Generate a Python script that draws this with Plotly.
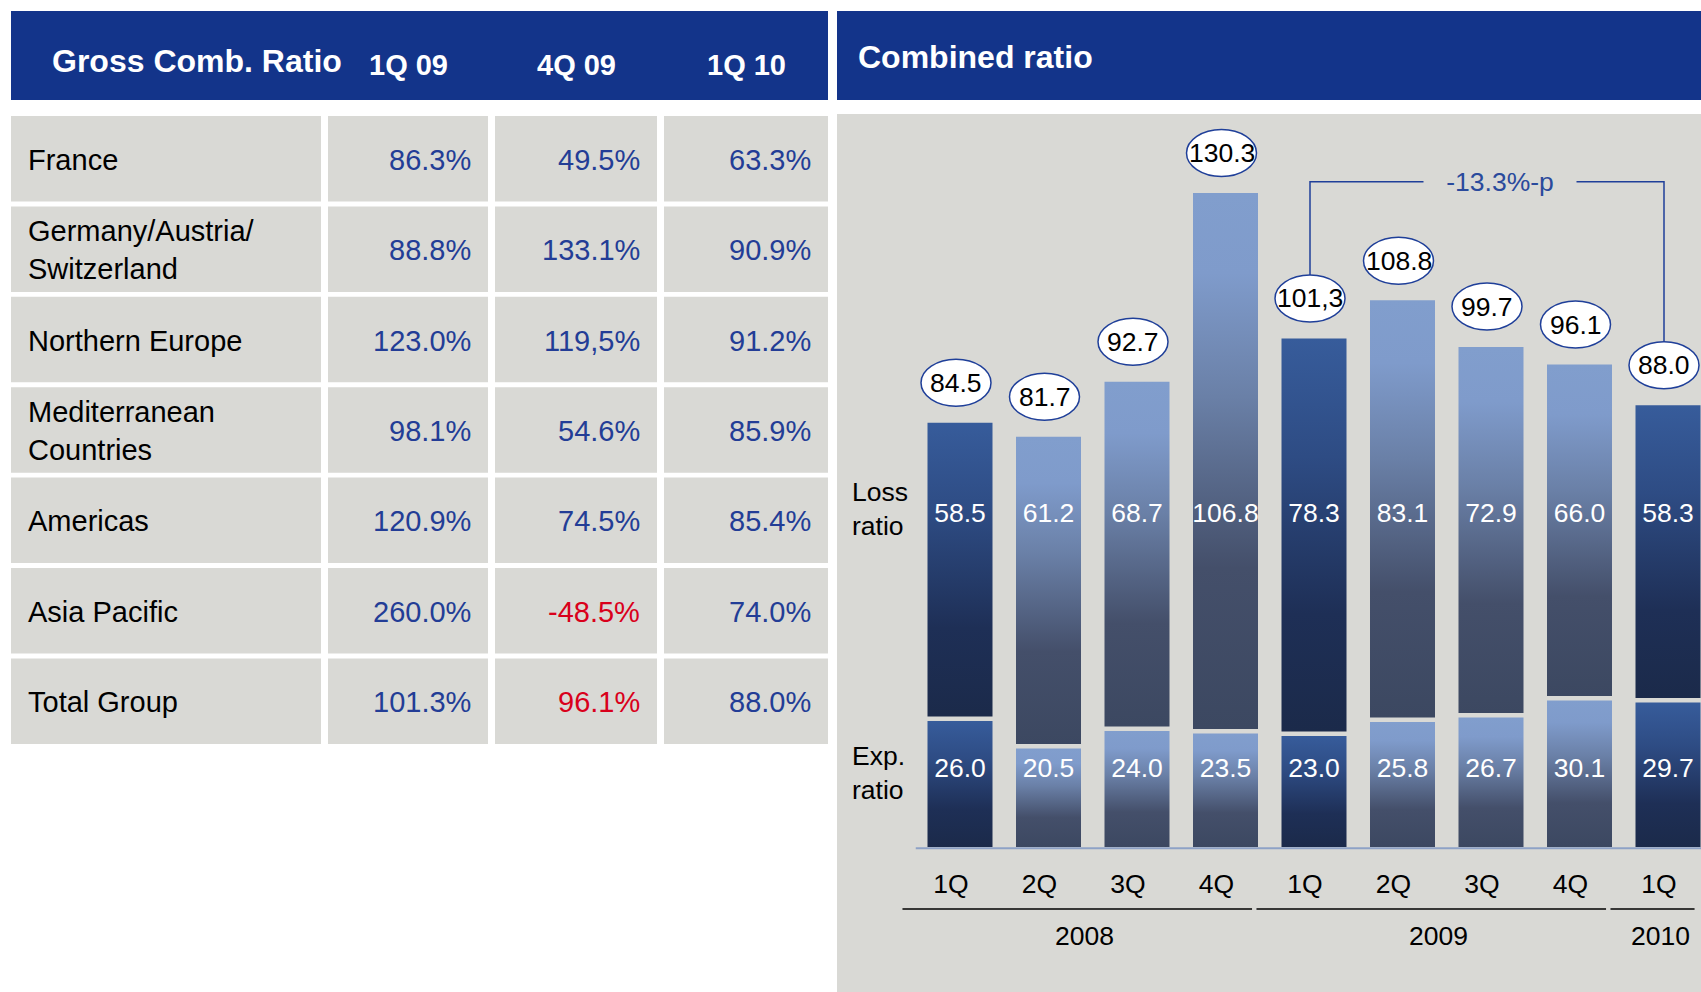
import plotly.graph_objects as go

W, H = 1701, 992

# ---- table data ----
table_title = "Gross Comb. Ratio"
table_periods = ["1Q 09", "4Q 09", "1Q 10"]
regions = [
    "France", "Germany/Austria/<br>Switzerland", "Northern Europe",
    "Mediterranean<br>Countries", "Americas", "Asia Pacific", "Total Group",
]
ratio_1q09 = ["86.3%", "88.8%", "123.0%", "98.1%", "120.9%", "260.0%", "101.3%"]
ratio_4q09 = ["49.5%", "133.1%", "119,5%", "54.6%", "74.5%", "-48.5%", "96.1%"]
ratio_1q10 = ["63.3%", "90.9%", "91.2%", "85.9%", "85.4%", "74.0%", "88.0%"]
red_4q09 = [False, False, False, False, False, True, True]

# ---- chart data ----
chart_title = "Combined ratio"
quarters = ["1Q", "2Q", "3Q", "4Q", "1Q", "2Q", "3Q", "4Q", "1Q"]
years = ["2008", "2009", "2010"]
year_of_bar = [0, 0, 0, 0, 1, 1, 1, 1, 2]
loss_ratio = [58.5, 61.2, 68.7, 106.8, 78.3, 83.1, 72.9, 66.0, 58.3]
exp_ratio = [26.0, 20.5, 24.0, 23.5, 23.0, 25.8, 26.7, 30.1, 29.7]
combined_ratio = [84.5, 81.7, 92.7, 130.3, 101.3, 108.8, 99.7, 96.1, 88.0]
combined_text = ["84.5", "81.7", "92.7", "130.3", "101,3", "108.8", "99.7", "96.1", "88.0"]
highlight = [True, False, False, False, True, False, False, False, True]
change_from, change_to, change_text = 4, 8, "-13.3%-p"

# ---- styling ----
FONT = "Liberation Sans, Arial, sans-serif"
NAVY = "#13348a"
PANEL = "#d9d9d5"
VAL_BLUE = "#233d96"
VAL_RED = "#d9001b"
DARK_CS = [[0, "#1b2a4a"], [0.3, "#1e2f56"], [0.7, "#2e4c84"], [1, "#375c9b"]]
LIGHT_CS = [[0, "#3c4861"], [0.3, "#444f6a"], [0.62, "#6a80a7"], [0.85, "#7f9bcb"], [1, "#819ecd"]]

PX_X = 88.5      # px per bar slot
PX_Y = 5.02      # px per ratio point
X0_PX = 960      # centre of first bar
BASE_PX = 847    # y pixel of ratio 0
BAR_W = 65 / PX_X
GAP = 4.5 / PX_Y
LOSS_LABEL_Y = 66
EXP_LABEL_Y = 15.3
ELL_DX = -4
TXT = 26.5
TBL = 29


def px(x):
    return x / W


def py(y):
    return 1 - y / H


fig = go.Figure()
shapes = []
annotations = []

# ---- table ----
shapes.append(dict(type="rect", xref="paper", yref="paper", x0=px(11), x1=px(828),
                   y0=py(100), y1=py(11), fillcolor=NAVY, line_width=0, layer="below"))
annotations.append(dict(xref="paper", yref="paper", x=px(50), y=py(61), text=f"<b>{table_title}</b>",
                        xanchor="left", yanchor="middle", showarrow=False,
                        font=dict(family=FONT, size=32, color="white")))
col_edges = [(11, 321), (328, 488), (495, 657), (664, 828)]
for c, lab in enumerate(table_periods):
    l, r = col_edges[c + 1]
    annotations.append(dict(xref="paper", yref="paper", x=px((l + r) / 2), y=py(65),
                            text=f"<b>{lab}</b>", xanchor="center", yanchor="middle", showarrow=False,
                            font=dict(family=FONT, size=29, color="white")))

ROW_TOP0, ROW_PITCH, ROW_H = 116, 90.4, 85.5
cols = [ratio_1q09, ratio_4q09, ratio_1q10]
for r, name in enumerate(regions):
    top = ROW_TOP0 + r * ROW_PITCH
    mid = top + ROW_H / 2
    for l, rr in col_edges:
        shapes.append(dict(type="rect", xref="paper", yref="paper", x0=px(l), x1=px(rr),
                           y0=py(top + ROW_H), y1=py(top), fillcolor=PANEL, line_width=0, layer="below"))
    annotations.append(dict(xref="paper", yref="paper", x=px(26), y=py(mid + 1), text=name,
                            xanchor="left", yanchor="middle", align="left", showarrow=False,
                            font=dict(family=FONT, size=TBL, color="black")))
    for c, vals in enumerate(cols):
        color = VAL_RED if (c == 1 and red_4q09[r]) else VAL_BLUE
        annotations.append(dict(xref="paper", yref="paper", x=px(col_edges[c + 1][1] - 15), y=py(mid + 1),
                                text=vals[r], xanchor="right", yanchor="middle", showarrow=False,
                                font=dict(family=FONT, size=TBL, color=color)))

# ---- chart panel ----
shapes.append(dict(type="rect", xref="paper", yref="paper", x0=px(837), x1=1,
                   y0=py(100), y1=py(11), fillcolor=NAVY, line_width=0, layer="below"))
shapes.append(dict(type="rect", xref="paper", yref="paper", x0=px(837), x1=1,
                   y0=0, y1=py(114), fillcolor=PANEL, line_width=0, layer="below"))
annotations.append(dict(xref="paper", yref="paper", x=px(856), y=py(57), text=f"<b>{chart_title}</b>",
                        xanchor="left", yanchor="middle", showarrow=False,
                        font=dict(family=FONT, size=32, color="white")))

n = len(quarters)
for i in range(n):
    cs = DARK_CS if highlight[i] else LIGHT_CS
    segs = [(0, exp_ratio[i] - GAP), (exp_ratio[i], exp_ratio[i] + loss_ratio[i])]
    xl, xr = i - BAR_W / 2, i + BAR_W / 2
    for y0, y1 in segs:
        fig.add_trace(go.Scatter(
            x=[xl, xr, xr, xl, xl], y=[y0, y0, y1, y1, y0],
            mode="none", fill="toself",
            fillgradient=dict(type="vertical", colorscale=cs),
            hoverinfo="skip", showlegend=False,
        ))

fig.add_trace(go.Scatter(
    x=list(range(n)), y=[LOSS_LABEL_Y] * n, mode="text",
    text=[f"{v:.1f}" for v in loss_ratio],
    textfont=dict(family=FONT, size=TXT, color="white"), showlegend=False, hoverinfo="skip",
))
fig.add_trace(go.Scatter(
    x=list(range(n)), y=[EXP_LABEL_Y] * n, mode="text",
    text=[f"{v:.1f}" for v in exp_ratio],
    textfont=dict(family=FONT, size=TXT, color="white"), showlegend=False, hoverinfo="skip",
))

# baseline
shapes.append(dict(type="line", xref="x", yref="y", x0=-0.5, x1=n, y0=-0.25, y1=-0.25,
                   line=dict(color="#8ea2c6", width=2)))

# total ellipses
ELL_OFF, ELL_HW, ELL_HH = 40, 35, 23.5
for i in range(n):
    shapes.append(dict(type="circle", xref="x", yref="y", xsizemode="pixel", ysizemode="pixel",
                       xanchor=i, yanchor=combined_ratio[i],
                       x0=ELL_DX - ELL_HW, x1=ELL_DX + ELL_HW,
                       y0=ELL_OFF - ELL_HH, y1=ELL_OFF + ELL_HH,
                       fillcolor="white", line=dict(color="#1f3f99", width=1.5)))
    annotations.append(dict(x=i, y=combined_ratio[i], xref="x", yref="y", xshift=ELL_DX, yshift=ELL_OFF,
                            text=combined_text[i], showarrow=False, xanchor="center", yanchor="middle",
                            font=dict(family=FONT, size=TXT, color="black")))

# change bracket
dx = ELL_DX / PX_X
top_a = combined_ratio[change_from] + (ELL_OFF + ELL_HH) / PX_Y
top_b = combined_ratio[change_to] + (ELL_OFF + ELL_HH) / PX_Y
br_y = max(combined_ratio) + 2.2
xa, xb = change_from + dx, change_to + dx
shapes.append(dict(type="path", xref="x", yref="y",
                   path=f"M {xa},{top_a} L {xa},{br_y} L {xb},{br_y} L {xb},{top_b}",
                   line=dict(color="#1f3f99", width=1.5)))
annotations.append(dict(x=(xa + xb) / 2, y=br_y, xref="x", yref="y", xshift=13, text=change_text,
                        showarrow=False, bgcolor=PANEL, width=150, height=30,
                        font=dict(family=FONT, size=TXT, color="#2a4a9c")))

# side labels
annotations.append(dict(xref="paper", yref="paper", x=px(850), y=py(509), text="Loss<br>ratio",
                        xanchor="left", yanchor="middle", align="left", showarrow=False,
                        font=dict(family=FONT, size=TXT, color="black")))
annotations.append(dict(xref="paper", yref="paper", x=px(850), y=py(773), text="Exp.<br>ratio",
                        xanchor="left", yanchor="middle", align="left", showarrow=False,
                        font=dict(family=FONT, size=TXT, color="black")))

# year groups
for k, yr in enumerate(years):
    members = [i for i in range(n) if year_of_bar[i] == k]
    g0, g1 = min(members) - 0.65, max(members) + 0.3
    shapes.append(dict(type="line", xref="x", yref="paper", x0=g0, x1=g1, y0=py(909), y1=py(909),
                       line=dict(color="black", width=1.5)))
    annotations.append(dict(x=sum(members) / len(members) - 0.09, y=py(936), xref="x", yref="paper",
                            text=yr, showarrow=False, xanchor="center", yanchor="middle",
                            font=dict(family=FONT, size=TXT, color="black")))

x_left = (837 - X0_PX) / PX_X
x_right = (W - X0_PX) / PX_X
dom_bottom, dom_top = 850, 114
y_lo = -(dom_bottom - BASE_PX) / PX_Y
y_hi = y_lo + (dom_bottom - dom_top) / PX_Y

fig.update_layout(
    width=W, height=H,
    margin=dict(l=0, r=0, t=0, b=0),
    paper_bgcolor="white",
    plot_bgcolor="rgba(0,0,0,0)",
    showlegend=False,
    xaxis=dict(domain=[px(837), 1], range=[x_left, x_right], showgrid=False, zeroline=False,
               showline=False, ticks="", tickmode="array", tickvals=list(range(n)), ticktext=quarters,
               tickfont=dict(family=FONT, size=TXT, color="black"), ticklabelshift=-9,
               ticklabelstandoff=15, fixedrange=True),
    yaxis=dict(domain=[py(dom_bottom), py(dom_top)], range=[y_lo, y_hi], showgrid=False,
               zeroline=False, showline=False, showticklabels=False, fixedrange=True),
    shapes=shapes,
    annotations=annotations,
)

fig.write_html(
    "out.html",
    config={"displayModeBar": False},
    post_script="document.body.style.margin='0';document.body.style.overflow='hidden';",
)
